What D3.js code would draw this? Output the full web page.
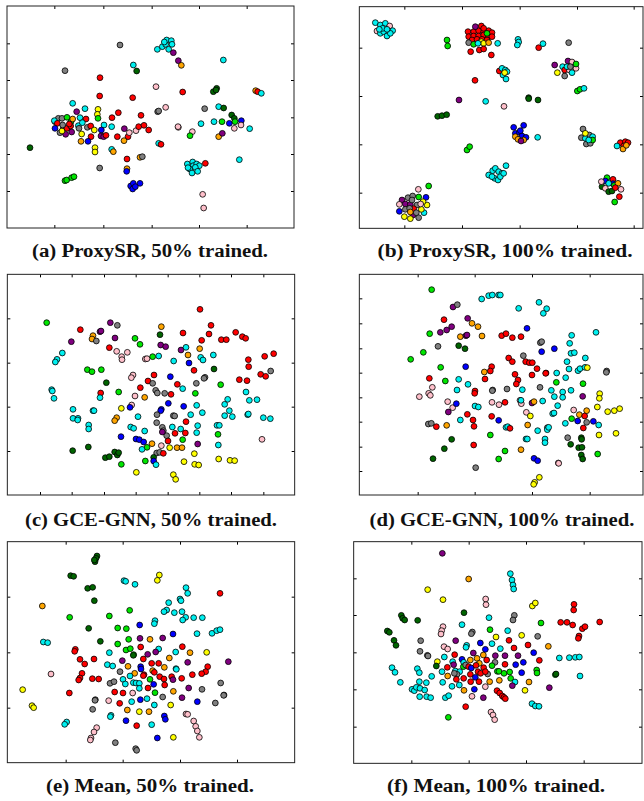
<!DOCTYPE html>
<html><head><meta charset="utf-8">
<script src="https://cdn.jsdelivr.net/npm/d3@7"></script>
<style>body{margin:0;background:#fff}svg{display:block}</style>
</head><body>
<script>
// colour keys: r red, c cyan, g grey, l lime green, d dark green, p purple, o orange, y yellow, k pink, b blue
const classKeys = ["r","c","g","l","d","p","o","y","k","b"];
const classColors = ["#ff0000","#00f0f0","#808080","#00e600","#006400","#800080","#ffa500","#ffff00","#ffc0cb","#0000ff"];

const captions = ["(a) ProxySR, 50% trained.","(b) ProxySR, 100% trained.","(c) GCE-GNN, 50% trained.","(d) GCE-GNN, 100% trained.","(e) Mean, 50% trained.","(f) Mean, 100% trained."];

// embedding extents (x0,x1,y0,y1) and tick values for each panel
const extents = [[21,882,18,684],[112,963,20,685],[22,884,28,690],[112,963,28,690],[22,884,35,698],[95,960,35,700]];
const xTicks = [[163,310,455,597,740],[247,420,593,765,935],[120,215,312,407,503,598,693,790],[287,458,630,803],[197,368,540,711],[268,440,612,785]];
const yTicks = [[130,240,352,462,573],[143,288,433,578],[160,293,425,558],[100,175,250,323,397,470,545,618],[200,367,533],[145,255,367,478,590]];

const pointsA = [
[360,135,"g"],[472,148,"c"],[487,140,"c"],[497,133,"c"],[500,120,"c"],[514,122,"c"],[516,133,"c"],[506,148,"c"],[493,126,"c"],[520,158,"p"],[535,182,"p"],[544,196,"o"],
[670,180,"c"],[195,212,"g"],[400,195,"c"],[410,213,"d"],[300,233,"r"],[468,260,"k"],[548,276,"r"],[640,275,"d"],[650,265,"d"],[648,270,"d"],
[767,272,"o"],[773,275,"r"],[784,280,"c"],[299,288,"r"],[398,293,"r"],[218,310,"c"],[255,326,"c"],[230,335,"p"],[294,328,"y"],[292,343,"y"],[294,355,"l"],
[355,338,"r"],[336,353,"r"],[497,322,"k"],[473,335,"g"],[476,333,"g"],[614,326,"g"],[656,320,"c"],[671,324,"d"],[423,346,"r"],[695,345,"d"],[703,355,"d"],
[642,365,"c"],[666,365,"l"],[603,371,"c"],[724,362,"b"],[688,370,"b"],[705,365,"l"],[723,375,"k"],[703,385,"k"],[749,386,"c"],
[165,365,"g"],[175,355,"g"],[186,355,"g"],[163,362,"c"],[172,370,"r"],[201,352,"l"],[213,365,"l"],[190,383,"p"],[165,385,"b"],[180,398,"g"],[197,403,"p"],
[186,393,"y"],[201,385,"r"],[212,378,"r"],[218,357,"o"],[208,372,"r"],[188,375,"g"],[215,396,"p"],[240,353,"c"],[258,357,"r"],[235,377,"c"],[237,385,"g"],
[247,368,"c"],[262,382,"g"],[272,378,"r"],[283,390,"y"],[312,375,"c"],[335,380,"c"],[245,402,"y"],[304,390,"b"],[303,408,"p"],[311,410,"p"],[318,406,"r"],
[373,386,"p"],[352,410,"r"],[384,410,"r"],[372,422,"o"],[388,398,"k"],[408,392,"k"],[416,380,"r"],[432,376,"r"],[446,390,"r"],[273,410,"r"],[243,424,"o"],[264,424,"b"],
[535,382,"k"],[534,380,"k"],[577,395,"k"],[570,407,"l"],[656,410,"o"],[667,400,"p"],[476,430,"c"],[483,433,"r"],[285,443,"y"],[285,456,"y"],[335,448,"c"],[340,455,"o"],
[420,472,"o"],[427,470,"g"],[381,477,"r"],[718,479,"c"],[299,504,"g"],[381,506,"o"],[380,514,"b"],
[562,492,"c"],[578,486,"c"],[580,497,"c"],[590,492,"c"],[598,497,"c"],[569,507,"c"],[586,502,"c"],[593,514,"c"],[576,519,"c"],[564,503,"c"],[616,490,"r"],
[392,558,"b"],[400,550,"b"],[420,550,"b"],[398,567,"b"],[406,560,"b"],[195,542,"l"],[200,540,"l"],[215,533,"l"],[222,530,"l"],[90,443,"d"],[608,583,"k"],[611,624,"k"]
];

const pointsB = [
[160,68,"c"],[175,75,"c"],[190,70,"c"],[203,78,"k"],[212,92,"c"],[165,93,"k"],[175,100,"c"],[185,95,"c"],[195,108,"c"],[205,100,"c"],[182,85,"c"],[172,88,"c"],[195,88,"c"],
[438,95,"r"],[455,95,"r"],[470,92,"r"],[485,95,"r"],[500,92,"r"],[510,98,"r"],[440,110,"r"],[455,108,"r"],[470,108,"r"],[485,105,"r"],[500,110,"r"],[510,110,"r"],
[450,120,"r"],[465,118,"r"],[480,118,"r"],[495,120,"r"],[460,80,"p"],[478,78,"r"],[485,85,"r"],[440,128,"g"],[455,133,"l"],[478,125,"y"],[485,130,"y"],[500,128,"o"],
[468,130,"c"],[446,155,"r"],[472,150,"r"],[485,147,"r"],[495,100,"l"],[508,165,"r"],[375,120,"l"],[377,138,"l"],[527,130,"c"],[588,118,"c"],[590,126,"c"],[586,135,"c"],
[650,143,"r"],[663,131,"c"],[740,128,"g"],[698,195,"p"],[706,218,"y"],
[738,183,"p"],[750,186,"k"],[722,200,"c"],[728,228,"g"],[728,210,"r"],[742,210,"k"],[750,218,"c"],[762,205,"k"],[762,192,"l"],[735,200,"c"],[745,200,"g"],
[532,213,"r"],[540,205,"c"],[550,210,"c"],[555,215,"c"],[543,225,"c"],[552,237,"c"],[548,218,"y"],[459,241,"r"],[766,273,"l"],[774,268,"l"],[786,265,"c"],
[411,300,"p"],[491,304,"c"],[620,293,"d"],[620,296,"d"],[648,300,"d"],[546,319,"k"],[347,349,"d"],[360,347,"d"],[374,344,"d"],
[575,382,"b"],[605,376,"b"],[580,400,"b"],[592,397,"b"],[600,408,"b"],[612,412,"b"],[595,392,"b"],[580,410,"o"],[588,418,"o"],[605,420,"o"],[597,423,"p"],[647,412,"c"],
[783,387,"g"],[778,413,"g"],[793,432,"g"],[805,430,"g"],[802,405,"g"],[790,415,"c"],[812,410,"c"],[790,400,"y"],[812,420,"l"],[800,420,"c"],
[895,428,"r"],[910,425,"r"],[918,428,"r"],[905,438,"r"],[903,447,"o"],[885,438,"c"],[913,436,"o"],[435,450,"l"],[443,440,"l"],
[500,525,"c"],[512,512,"c"],[520,505,"c"],[530,515,"c"],[540,520,"c"],[518,535,"c"],[528,540,"c"],[510,530,"c"],[535,530,"c"],[552,497,"c"],[545,520,"c"],
[855,533,"l"],[840,560,"d"],[873,538,"r"],[850,543,"b"],[873,551,"b"],[860,550,"c"],[838,545,"k"],[850,565,"k"],[897,568,"k"],[877,556,"l"],[860,575,"d"],[870,573,"d"],
[888,550,"o"],[880,563,"r"],[878,606,"l"],[892,590,"r"],
[320,558,"l"],[289,568,"k"],[312,592,"b"],[315,615,"y"],[306,638,"c"],[258,593,"g"],[272,588,"g"],[290,591,"l"],[240,600,"p"],[232,613,"k"],[232,634,"b"],[250,612,"p"],
[265,613,"p"],[285,615,"g"],[275,626,"r"],[250,628,"g"],[263,625,"g"],[303,605,"y"],[298,628,"y"],[273,645,"p"],[247,650,"y"],[265,656,"y"],[290,653,"g"],[283,638,"g"],
[265,636,"o"],[296,612,"k"],[270,600,"g"]
];

const pointsC = [
[600,133,"r"],[140,173,"l"],[241,194,"r"],[214,230,"p"],[279,212,"o"],[276,222,"o"],[289,228,"g"],[300,200,"p"],[303,198,"p"],[331,173,"p"],[352,181,"g"],[345,219,"p"],
[328,248,"r"],[350,259,"k"],[365,275,"k"],[366,284,"k"],[382,262,"k"],[405,220,"l"],[420,238,"l"],[484,185,"o"],[480,209,"d"],[549,204,"r"],[633,181,"r"],[627,207,"r"],
[605,226,"r"],[664,224,"r"],[679,224,"r"],[707,202,"r"],[727,215,"r"],[737,220,"r"],[482,240,"p"],[497,245,"p"],[543,255,"p"],[558,247,"c"],[599,251,"o"],[564,270,"o"],
[436,282,"k"],[441,281,"k"],[458,275,"l"],[476,273,"c"],[521,288,"c"],[567,294,"b"],[602,277,"c"],[609,285,"c"],[640,270,"c"],[745,284,"r"],[794,274,"r"],[821,266,"r"],
[746,305,"r"],[187,264,"c"],[171,283,"c"],[166,291,"c"],[262,314,"l"],[276,320,"l"],[304,314,"l"],[642,312,"d"],[582,316,"r"],[399,330,"k"],[394,338,"k"],[462,330,"r"],
[511,335,"b"],[615,337,"g"],[612,340,"g"],[812,318,"g"],[782,328,"r"],[797,334,"r"],[718,344,"r"],[741,347,"r"],[319,353,"d"],[444,348,"r"],[458,355,"g"],[532,358,"r"],
[548,371,"c"],[589,355,"g"],[662,359,"l"],[421,368,"r"],[467,376,"g"],[472,384,"g"],[494,385,"g"],[513,388,"r"],[586,385,"l"],[155,374,"c"],[157,378,"c"],[162,400,"c"],
[302,384,"r"],[300,398,"c"],[356,381,"l"],[405,393,"k"],[434,397,"o"],[738,381,"c"],[683,403,"c"],[674,418,"c"],[748,406,"c"],[771,404,"c"],[505,415,"b"],[551,424,"b"],
[395,420,"k"],[390,427,"b"],[219,433,"c"],[279,437,"c"],[282,437,"c"],[364,430,"y"],[484,433,"b"],[482,437,"b"],[471,449,"g"],[414,455,"c"],[520,452,"g"],[524,453,"g"],
[572,449,"c"],[590,421,"c"],[607,443,"c"],[688,437,"c"],[674,452,"c"],[697,455,"c"],[743,449,"c"],[745,447,"c"],[219,460,"c"],[234,460,"c"],[233,465,"c"],[350,458,"o"],
[344,467,"o"],[558,470,"r"],[470,473,"g"],[790,458,"c"],[811,461,"c"],[266,480,"c"],[266,492,"c"],[392,486,"c"],[401,490,"c"],[434,498,"c"],[487,487,"g"],[490,497,"g"],
[517,486,"c"],[542,492,"c"],[525,505,"r"],[556,504,"r"],[593,482,"c"],[590,503,"c"],[651,481,"c"],[658,481,"c"],[654,508,"l"],[500,512,"g"],[487,501,"p"],[504,528,"r"],
[363,515,"b"],[408,522,"b"],[418,524,"b"],[431,531,"b"],[548,524,"l"],[456,536,"o"],[484,542,"k"],[509,548,"y"],[531,548,"o"],[546,548,"o"],[593,537,"p"],[655,540,"c"],
[786,523,"k"],[218,557,"d"],[265,546,"d"],[316,578,"d"],[328,575,"d"],[344,561,"d"],[352,570,"d"],[356,563,"d"],[441,547,"l"],[426,553,"c"],[583,566,"y"],[470,564,"g"],
[479,562,"g"],[490,565,"r"],[461,577,"d"],[364,598,"l"],[436,588,"l"],[461,588,"b"],[468,599,"c"],[552,590,"y"],[584,598,"y"],[596,600,"y"],[656,582,"y"],[690,586,"y"],
[704,587,"y"],[409,622,"y"],[520,629,"y"],[527,643,"y"]
];

const pointsD = [
[329,74,"l"],[479,102,"c"],[500,92,"c"],[511,90,"c"],[530,90,"c"],[535,90,"c"],[590,130,"c"],[651,112,"c"],[674,131,"c"],[664,145,"c"],[393,126,"p"],[406,119,"g"],
[366,164,"r"],[437,160,"p"],[450,175,"o"],[468,185,"o"],[389,185,"p"],[374,195,"p"],[355,202,"p"],[323,206,"l"],[415,215,"o"],[432,212,"p"],[435,210,"p"],[480,213,"o"],
[539,212,"r"],[552,206,"r"],[571,218,"r"],[597,215,"r"],[615,190,"b"],[749,211,"c"],[822,202,"c"],[348,244,"g"],[410,242,"d"],[429,251,"d"],[655,233,"g"],[659,230,"g"],
[659,260,"b"],[697,251,"b"],[743,235,"c"],[747,265,"c"],[757,263,"c"],[266,283,"l"],[304,262,"l"],[560,279,"r"],[571,290,"r"],[604,272,"g"],[611,290,"r"],[622,293,"r"],
[631,293,"r"],[735,290,"c"],[790,279,"c"],[356,307,"l"],[431,305,"b"],[509,305,"r"],[505,318,"r"],[487,321,"o"],[645,311,"r"],[741,312,"c"],[768,317,"c"],[774,311,"c"],
[789,307,"c"],[796,308,"y"],[854,318,"g"],[853,322,"g"],[579,328,"r"],[630,330,"r"],[672,324,"r"],[671,325,"r"],[704,324,"c"],[322,340,"r"],[370,348,"l"],[489,342,"r"],
[588,345,"r"],[410,343,"c"],[438,358,"c"],[583,357,"r"],[731,338,"c"],[703,352,"l"],[783,356,"l"],[331,367,"k"],[405,375,"c"],[459,378,"r"],[458,385,"r"],[512,375,"g"],
[511,377,"g"],[555,372,"g"],[601,374,"c"],[654,367,"g"],[688,376,"c"],[722,381,"c"],[747,376,"c"],[320,385,"k"],[325,391,"k"],[292,395,"k"],[697,395,"c"],[722,397,"c"],
[782,394,"p"],[833,386,"y"],[832,400,"y"],[377,410,"k"],[392,428,"k"],[403,416,"b"],[379,441,"p"],[459,423,"c"],[469,426,"c"],[510,412,"k"],[531,419,"k"],[549,412,"r"],
[594,406,"k"],[598,416,"k"],[597,406,"c"],[630,414,"p"],[636,410,"o"],[662,408,"c"],[707,422,"c"],[755,435,"k"],[794,437,"o"],[772,449,"o"],[788,453,"r"],[826,426,"y"],
[857,440,"y"],[877,437,"y"],[893,431,"y"],[319,477,"g"],[328,475,"g"],[343,485,"r"],[374,481,"o"],[415,465,"c"],[436,448,"r"],[453,465,"r"],[456,484,"r"],[509,454,"r"],
[530,466,"b"],[613,442,"k"],[625,453,"y"],[692,446,"c"],[696,444,"c"],[730,475,"c"],[749,461,"l"],[767,468,"b"],[794,472,"g"],[814,469,"b"],[830,480,"c"],[784,489,"r"],
[617,480,"o"],[552,487,"c"],[557,485,"c"],[564,490,"r"],[647,497,"c"],[676,488,"g"],[676,494,"c"],[680,487,"c"],[831,510,"y"],[882,505,"y"],[389,523,"d"],[505,510,"l"],
[612,522,"c"],[616,522,"c"],[669,522,"c"],[669,533,"c"],[737,518,"g"],[778,518,"d"],[779,523,"d"],[746,538,"d"],[770,548,"d"],[780,547,"d"],[367,551,"d"],[455,540,"r"],
[549,558,"l"],[597,554,"o"],[827,567,"l"],[778,570,"d"],[782,582,"d"],[333,581,"d"],[530,582,"l"],[636,580,"b"],[647,587,"b"],[709,594,"k"],[710,595,"k"],[461,608,"g"],
[652,637,"y"],[638,652,"y"],[635,658,"y"]
];

const pointsE = [
[291,78,"d"],[288,85,"d"],[285,95,"d"],[283,90,"d"],[212,137,"d"],[221,139,"d"],[263,175,"d"],[278,172,"d"],[283,212,"d"],[478,135,"y"],[472,151,"y"],[372,152,"c"],
[377,154,"c"],[405,163,"c"],[558,173,"c"],[563,190,"c"],[660,190,"r"],[127,228,"o"],[506,218,"c"],[500,240,"c"],[492,245,"c"],[540,207,"c"],[543,212,"c"],[523,248,"c"],
[546,245,"c"],[389,241,"l"],[209,262,"l"],[328,258,"l"],[465,272,"c"],[463,281,"c"],[557,262,"c"],[548,270,"c"],[581,263,"c"],[607,263,"c"],[266,295,"d"],[353,294,"l"],
[379,296,"l"],[419,285,"b"],[591,311,"c"],[636,310,"c"],[650,302,"c"],[660,299,"c"],[519,312,"b"],[301,334,"d"],[130,336,"c"],[143,338,"c"],[386,328,"l"],[420,325,"p"],
[450,328,"o"],[488,324,"p"],[353,342,"l"],[422,351,"r"],[378,360,"l"],[391,356,"l"],[401,374,"l"],[400,376,"d"],[476,357,"c"],[547,350,"r"],[226,358,"r"],[224,364,"r"],
[328,368,"c"],[443,373,"p"],[467,366,"p"],[570,368,"o"],[620,367,"y"],[240,388,"r"],[254,402,"r"],[282,387,"r"],[430,387,"r"],[367,392,"p"],[508,384,"o"],[527,366,"c"],
[685,395,"p"],[455,400,"r"],[476,400,"r"],[563,397,"p"],[322,404,"c"],[338,408,"c"],[384,409,"o"],[422,410,"b"],[423,417,"b"],[493,412,"o"],[528,416,"c"],[529,418,"c"],
[623,410,"r"],[617,425,"r"],[605,431,"r"],[153,432,"k"],[246,430,"r"],[240,444,"r"],[236,450,"r"],[360,425,"g"],[404,430,"o"],[432,434,"r"],[430,437,"r"],[458,422,"o"],
[463,427,"r"],[390,438,"c"],[479,440,"r"],[492,447,"r"],[515,440,"r"],[545,445,"r"],[577,434,"r"],[450,448,"l"],[369,448,"c"],[376,462,"c"],[277,446,"r"],[296,447,"r"],
[330,460,"g"],[342,455,"g"],[400,458,"c"],[408,459,"c"],[418,460,"c"],[461,463,"b"],[444,474,"r"],[494,465,"r"],[519,449,"p"],[662,459,"g"],[418,475,"c"],[566,474,"p"],
[606,478,"g"],[672,495,"g"],[671,496,"g"],[68,479,"y"],[208,489,"r"],[344,486,"r"],[369,489,"r"],[398,489,"k"],[465,488,"l"],[520,484,"o"],[488,501,"g"],[546,503,"p"],
[286,509,"g"],[285,511,"g"],[326,512,"k"],[359,520,"r"],[395,515,"c"],[421,509,"b"],[441,506,"c"],[463,525,"c"],[512,525,"y"],[592,515,"b"],[646,519,"g"],[96,527,"y"],
[101,533,"y"],[278,538,"g"],[382,540,"o"],[418,545,"y"],[447,545,"o"],[558,552,"k"],[563,553,"k"],[333,556,"c"],[331,560,"c"],[493,558,"b"],[496,568,"b"],[378,572,"b"],
[455,584,"c"],[410,587,"r"],[581,573,"k"],[587,589,"k"],[592,603,"k"],[598,622,"k"],[200,576,"c"],[194,583,"c"],[290,593,"k"],[282,606,"k"],[273,624,"k"],[271,630,"k"],
[472,624,"b"],[520,622,"y"],[346,638,"g"],[407,656,"g"],[410,661,"g"]
];

const pointsF = [
[361,70,"p"],[565,131,"c"],[570,150,"c"],[573,165,"c"],[575,177,"c"],[440,147,"o"],[317,179,"y"],[363,209,"y"],[491,207,"k"],[492,224,"k"],[631,228,"y"],[640,219,"y"],
[756,223,"r"],[755,240,"r"],[426,248,"d"],[577,256,"g"],[573,270,"g"],[501,263,"c"],[238,256,"d"],[242,265,"d"],[248,270,"d"],[287,271,"d"],[657,279,"l"],[716,277,"r"],
[735,277,"r"],[752,285,"r"],[833,276,"r"],[781,296,"r"],[789,290,"r"],[771,318,"r"],[769,325,"r"],[196,303,"d"],[202,307,"d"],[420,284,"c"],[363,290,"k"],[359,302,"k"],
[357,312,"k"],[451,306,"g"],[448,311,"g"],[504,299,"l"],[557,302,"c"],[522,321,"y"],[599,316,"y"],[647,319,"g"],[216,331,"d"],[222,346,"d"],[296,332,"g"],[401,332,"p"],
[561,331,"r"],[510,341,"c"],[475,339,"b"],[618,345,"r"],[679,349,"o"],[366,350,"k"],[377,357,"k"],[434,346,"c"],[432,352,"c"],[490,358,"b"],[535,356,"c"],[576,354,"r"],
[294,364,"g"],[316,376,"g"],[318,378,"g"],[367,381,"c"],[398,374,"r"],[454,369,"p"],[465,385,"o"],[445,390,"o"],[484,375,"o"],[520,377,"p"],[549,377,"p"],[588,377,"p"],
[635,368,"b"],[712,384,"c"],[742,383,"c"],[760,382,"c"],[772,381,"c"],[346,395,"y"],[343,408,"d"],[392,395,"c"],[420,388,"b"],[425,397,"c"],[494,390,"r"],[519,397,"g"],
[472,400,"o"],[604,397,"b"],[652,391,"r"],[395,404,"p"],[424,410,"l"],[431,405,"g"],[376,412,"r"],[440,410,"r"],[448,414,"b"],[462,406,"r"],[485,413,"r"],[510,407,"l"],
[549,403,"r"],[581,404,"b"],[210,413,"c"],[219,427,"c"],[286,416,"c"],[292,428,"c"],[360,425,"c"],[400,423,"c"],[413,425,"c"],[405,433,"g"],[397,430,"g"],[468,425,"r"],
[476,430,"r"],[497,432,"g"],[526,424,"l"],[531,424,"l"],[546,430,"l"],[563,426,"l"],[490,425,"r"],[445,433,"r"],[329,439,"c"],[377,438,"o"],[403,448,"r"],[425,445,"r"],
[460,442,"b"],[644,420,"l"],[645,429,"l"],[599,428,"b"],[700,434,"l"],[702,432,"d"],[774,438,"c"],[235,457,"c"],[292,455,"c"],[313,458,"c"],[362,457,"c"],[446,455,"r"],
[471,455,"r"],[503,455,"o"],[532,451,"o"],[566,445,"l"],[579,456,"c"],[621,456,"o"],[390,469,"c"],[412,465,"c"],[571,467,"p"],[490,470,"k"],[682,473,"p"],[270,478,"c"],
[277,482,"c"],[283,472,"c"],[294,475,"c"],[308,480,"c"],[426,481,"o"],[457,478,"b"],[525,482,"r"],[533,489,"r"],[541,498,"r"],[546,502,"r"],[550,506,"r"],[609,481,"y"],
[293,500,"c"],[314,500,"c"],[326,503,"c"],[370,503,"c"],[380,497,"c"],[450,499,"k"],[484,503,"p"],[630,521,"c"],[640,528,"c"],[651,529,"c"],[431,530,"r"],[507,546,"k"],
[513,555,"k"],[518,569,"k"],[379,562,"l"]
];

const panelPoints = [pointsA,pointsB,pointsC,pointsD,pointsE,pointsF];

// layout (page pixels)
const origins = [[0,0],[322,0],[0,265],[322,265],[0,530],[322,530]];
const captionPos = [[150,257],[505,257],[151,526],[502,526],[150,792],[496,792]];
const captionWidth = [236,255,252,265,208,218];
const Z = 3; // embedding units per pixel

const W = 644, H = 801;
const svg = d3.select("body").append("svg").attr("width", W).attr("height", H);
const color = d3.scaleOrdinal().domain(classKeys).range(classColors);

panelPoints.forEach((pts, i) => {
  const [ox, oy] = origins[i];
  const [x0, x1, y0, y1] = extents[i];
  const x = d3.scaleLinear().domain([x0, x1]).range([ox + x0 / Z, ox + x1 / Z]);
  const y = d3.scaleLinear().domain([y0, y1]).range([oy + y0 / Z, oy + y1 / Z]);
  const g = svg.append("g");
  const left = x(x0), right = x(x1), top = y(y0), bottom = y(y1);

  const clipId = "clip" + i;
  svg.append("clipPath").attr("id", clipId).append("rect")
    .attr("x", left).attr("y", top).attr("width", right - left).attr("height", bottom - top);

  g.append("g").attr("clip-path", `url(#${clipId})`)
    .selectAll("circle").data(pts).join("circle")
    .attr("cx", d => x(d[0])).attr("cy", d => y(d[1]))
    .attr("r", 2.9)
    .attr("fill", d => color(d[2]))
    .attr("stroke", "#000").attr("stroke-width", 0.8);

  const axisStyle = s => { s.select(".domain").remove(); s.selectAll(".tick text").remove(); s.selectAll(".tick line").attr("stroke", "#000"); };
  g.append("g").attr("transform", `translate(0,${bottom})`).call(d3.axisBottom(x).tickValues(xTicks[i]).tickSizeInner(-3).tickSizeOuter(0)).call(axisStyle);
  g.append("g").attr("transform", `translate(0,${top})`).call(d3.axisTop(x).tickValues(xTicks[i]).tickSizeInner(-3).tickSizeOuter(0)).call(axisStyle);
  g.append("g").attr("transform", `translate(${left},0)`).call(d3.axisLeft(y).tickValues(yTicks[i]).tickSizeInner(-3).tickSizeOuter(0)).call(axisStyle);
  g.append("g").attr("transform", `translate(${right},0)`).call(d3.axisRight(y).tickValues(yTicks[i]).tickSizeInner(-3).tickSizeOuter(0)).call(axisStyle);

  g.append("rect").attr("x", left).attr("y", top).attr("width", right - left).attr("height", bottom - top)
    .attr("fill", "none").attr("stroke", "#222").attr("stroke-width", 1);

  svg.append("text").attr("x", captionPos[i][0]).attr("y", captionPos[i][1])
    .attr("text-anchor", "middle")
    .attr("font-family", "'Liberation Serif', serif").attr("font-weight", "bold").attr("font-size", 18.5)
    .attr("textLength", captionWidth[i]).attr("lengthAdjust", "spacingAndGlyphs")
    .attr("fill", "#111")
    .text(captions[i]);
});
</script>
</body></html>
